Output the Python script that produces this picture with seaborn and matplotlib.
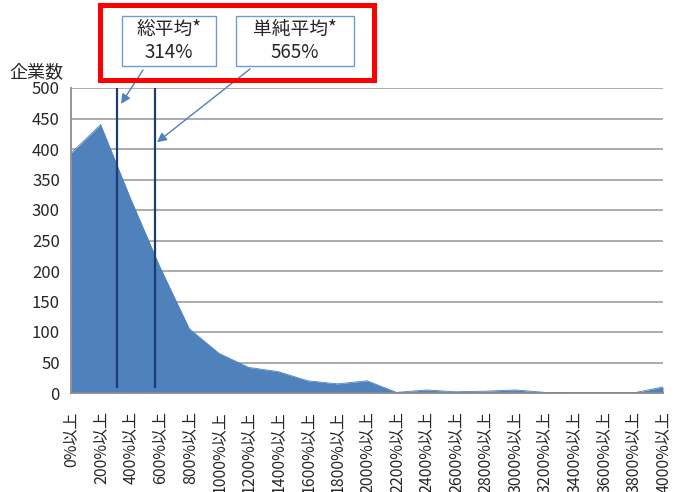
import matplotlib
matplotlib.use("Agg")
import matplotlib.pyplot as plt
from matplotlib.patches import Rectangle
import seaborn as sns
import pandas as pd

# Distribution of companies by ratio band
bands = ["0%以上", "200%以上", "400%以上", "600%以上", "800%以上", "1000%以上",
         "1200%以上", "1400%以上", "1600%以上", "1800%以上", "2000%以上",
         "2200%以上", "2400%以上", "2600%以上", "2800%以上", "3000%以上",
         "3200%以上", "3400%以上", "3600%以上", "3800%以上", "4000%以上"]
counts = [393, 440, 320, 207, 105, 65, 42, 35, 20, 15, 20,
          1, 5, 2, 3, 5, 1, 0, 0, 0, 10]
band_width = 200          # width of each band in percent
avg_labels = ["総平均*", "単純平均*"]
avg_values = [314, 565]   # percent

sns.set_style("white")
plt.rcParams["font.family"] = ["Noto Sans CJK JP", "DejaVu Sans"]

df = pd.DataFrame({"pos": range(len(bands)), "band": bands, "count": counts})

W, H = 683, 492
fig = plt.figure(figsize=(W / 100, H / 100), dpi=100)
ax = fig.add_axes([71 / W, 1 - 393 / H, (663 - 71) / W, (393 - 88) / H])

fill_color = "#4F81BD"
ax.fill_between(df["pos"], df["count"], 0, color=fill_color, lw=0, zorder=2)
sns.lineplot(data=df, x="pos", y="count", color=fill_color, lw=0.6, ax=ax, zorder=2)

# mean markers
avg_pos = [v / band_width for v in avg_values]
ax.vlines(avg_pos, 8, 500, color="#1F3C6E", lw=1.6, zorder=3)

ax.set_xlim(0, len(bands) - 1)
ax.set_ylim(0, 500)
ax.set_yticks(range(0, 501, 50))
ax.set_xticks(df["pos"])
ax.set_xticklabels(bands, rotation=90, fontsize=11.5)
ax.tick_params(axis="y", labelsize=12, length=5, width=1.2, color="#8C8C8C", pad=3)
ax.tick_params(axis="x", length=5, width=1.2, color="#8C8C8C", pad=8)
ax.set_xlabel("")
ax.set_ylabel("")
ax.yaxis.grid(True, color="#A6A6A6", lw=1.3)
ax.set_axisbelow(True)
for side in ["top", "right"]:
    ax.spines[side].set_visible(False)
for side in ["left", "bottom"]:
    ax.spines[side].set_color("#8C8C8C")
    ax.spines[side].set_linewidth(1.3)
ax.spines["bottom"].set_zorder(4)

fig.text(9 / W, 1 - 72 / H, "企業数", fontsize=13, va="center", ha="left")

# highlight frame around the average boxes
fig.add_artist(Rectangle((99.5 / W, 1 - 80 / H), (374.5 - 99.5) / W, (80 - 4.5) / H,
                         transform=fig.transFigure, fill=False, ec="#FF0000", lw=3.6))

boxes = [(122, 216), (236, 354)]
for (x0, x1), lab, val in zip(boxes, avg_labels, avg_values):
    fig.add_artist(Rectangle((x0 / W, 1 - 66 / H), (x1 - x0) / W, 50 / H,
                             transform=fig.transFigure, fc="white",
                             ec="#6F9BD2", lw=1.0))
    cx = (x0 + x1) / 2 / W
    fig.text(cx, 1 - 29 / H, lab, fontsize=13.5, ha="center", va="center")
    fig.text(cx, 1 - 53 / H, f"{val}%", fontsize=13.5, ha="center", va="center")

# arrows from the boxes to the marker lines
arrow_starts = [(143, 492 - 70), (250, 492 - 69)]
arrow_ends = [(1.69, 474), (2.905, 411)]
for start, end in zip(arrow_starts, arrow_ends):
    ax.annotate("", xy=end, xycoords="data", xytext=start,
                textcoords="figure pixels",
                arrowprops=dict(arrowstyle="-|>", color="#4F81BD", lw=1.0,
                                mutation_scale=14, shrinkA=0, shrinkB=0),
                annotation_clip=False)

fig.savefig("out.png", dpi=100)
